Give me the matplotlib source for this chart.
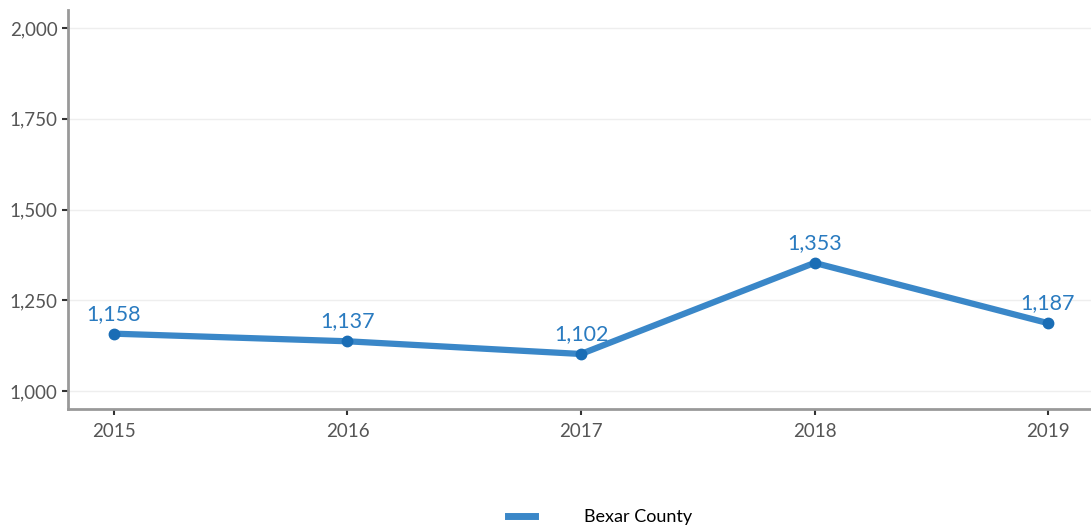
import matplotlib.pyplot as plt
from matplotlib.ticker import FuncFormatter

years = [2015, 2016, 2017, 2018, 2019]
values = [1158, 1137, 1102, 1353, 1187]
yticks = [1000, 1250, 1500, 1750, 2000]
series_name = "Bexar County"

plt.rcParams['font.family'] = ['Lato', 'DejaVu Sans']

fig = plt.figure(figsize=(10.91, 5.29), dpi=100)
ax = fig.add_axes([0.0623, 0.2268, 0.9377, 0.7543])

line_color = '#3a87c8'
dot_color = '#1a6db5'

ax.plot(years, values, color=line_color, lw=4.5, solid_capstyle='round', zorder=3, label=series_name)
ax.plot(years, values, 'o', color=dot_color, ms=7.5, zorder=4)
for x, y in zip(years, values):
    ax.annotate(f"{y:,}", (x, y), xytext=(0, 7), textcoords='offset points',
                ha='center', va='bottom', fontsize=15.5, color='#2a7bc0')

ax.set_xlim(2014.803, 2019.184)
ax.set_ylim(950.4, 2049.6)
ax.set_xticks(years)
ax.set_yticks(yticks)
ax.yaxis.set_major_formatter(FuncFormatter(lambda v, p: f"{int(v):,}"))
ax.grid(axis='y', color='#eeeeee', lw=1)
ax.set_axisbelow(True)
for s in ['top', 'right']:
    ax.spines[s].set_visible(False)
for s in ['left', 'bottom']:
    ax.spines[s].set_color('#999999')
    ax.spines[s].set_linewidth(2)
ax.tick_params(axis='both', colors='#333333', labelcolor='#555555', labelsize=13.5, length=4, width=1.5)
ax.tick_params(axis='x', pad=6)

handle = plt.Line2D([], [], color=line_color, lw=5)
fig.legend([handle], [series_name], loc='center', bbox_to_anchor=(0.550, 0.022),
           frameon=False, fontsize=13, handlelength=1.5, handletextpad=2.7)

fig.savefig('out.png', dpi=100)
